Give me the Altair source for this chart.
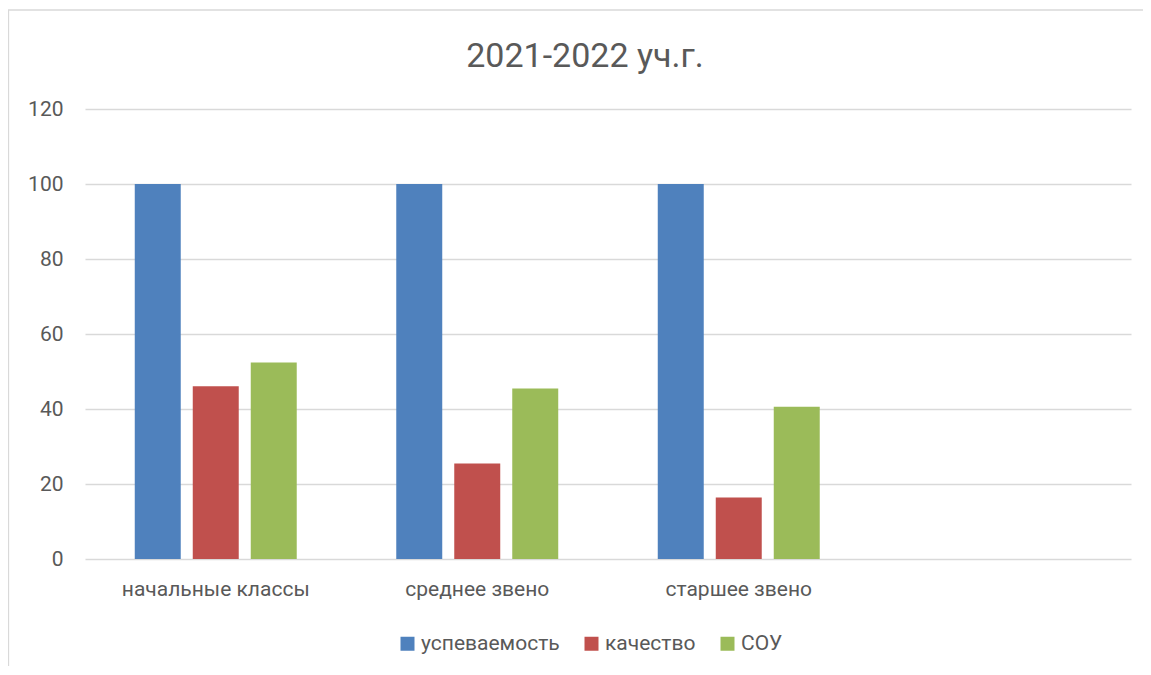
import altair as alt
import pandas as pd

title_text = "2021-2022 уч.г."
categories = ["начальные классы", "среднее звено", "старшее звено"]
empty_category = " "
series = ["успеваемость", "качество", "СОУ"]
uspevaemost = [100, 100, 100]
kachestvo = [46.1, 25.5, 16.4]
sou = [52.4, 45.5, 40.6]
colors = ["#4f81bd", "#c0504d", "#9bbb59"]
y_ticks = [0, 20, 40, 60, 80, 100, 120]

rows = []
for i, c in enumerate(categories):
    for s, vals in zip(series, [uspevaemost, kachestvo, sou]):
        rows.append({"cat": c, "series": s, "value": vals[i]})
df = pd.DataFrame(rows)

FONT = "Roboto"
TXT = "#595959"

bars = alt.Chart(df).mark_bar().encode(
    x=alt.X(
        "cat:N",
        sort=categories + [empty_category],
        scale=alt.Scale(domain=categories + [empty_category], paddingInner=0, paddingOuter=0),
        axis=alt.Axis(
            title=None, labelAngle=0, ticks=False, domain=False, grid=False,
            labelFont=FONT, labelFontSize=21, labelColor=TXT, labelPadding=19,
            labelLimit=0,
        ),
    ),
    xOffset=alt.XOffset(
        "series:N",
        sort=series,
        scale=alt.Scale(domain=series, paddingInner=0.207, paddingOuter=0.858),
    ),
    y=alt.Y(
        "value:Q",
        scale=alt.Scale(domain=[0, 120], nice=False),
        axis=alt.Axis(
            title=None, values=y_ticks, ticks=False, domain=False, grid=True,
            gridColor="#d9d9d9", gridWidth=1.3,
            labelFont=FONT, labelFontSize=21, labelColor=TXT, labelPadding=22,
        ),
    ),
    color=alt.Color(
        "series:N",
        sort=series,
        scale=alt.Scale(domain=series, range=colors),
        legend=alt.Legend(
            orient="none", legendX=312, legendY=524,
            direction="horizontal", title=None,
            symbolType="square", symbolSize=196, symbolStrokeWidth=0,
            labelFont=FONT, labelFontSize=21, labelColor=TXT,
            labelOffset=3, columnPadding=21,
        ),
    ),
)

border = alt.Chart(alt.Data(values=[{}])).mark_rect(
    fill=None, stroke="#d9d9d9", strokeWidth=1.3, clip=False
).encode(
    x=alt.value(-76.5), x2=alt.value(1200),
    y=alt.value(-99), y2=alt.value(600),
)

title = alt.Chart(alt.Data(values=[{}])).mark_text(
    font=FONT, fontSize=34, color=TXT, align="center", baseline="alphabetic",
).encode(
    text=alt.value(title_text), x=alt.value(500), y=alt.value(-42),
)

chart = alt.layer(border, bars, title).properties(
    width=1046,
    height=450,
    autosize=alt.AutoSizeParams(type="none"),
    padding={"left": 77, "top": 101, "right": 12, "bottom": 107},
).configure(background="white").configure_view(strokeWidth=0, stroke="transparent")

chart.save("out.html", embed_options={"renderer": "svg", "actions": False})
